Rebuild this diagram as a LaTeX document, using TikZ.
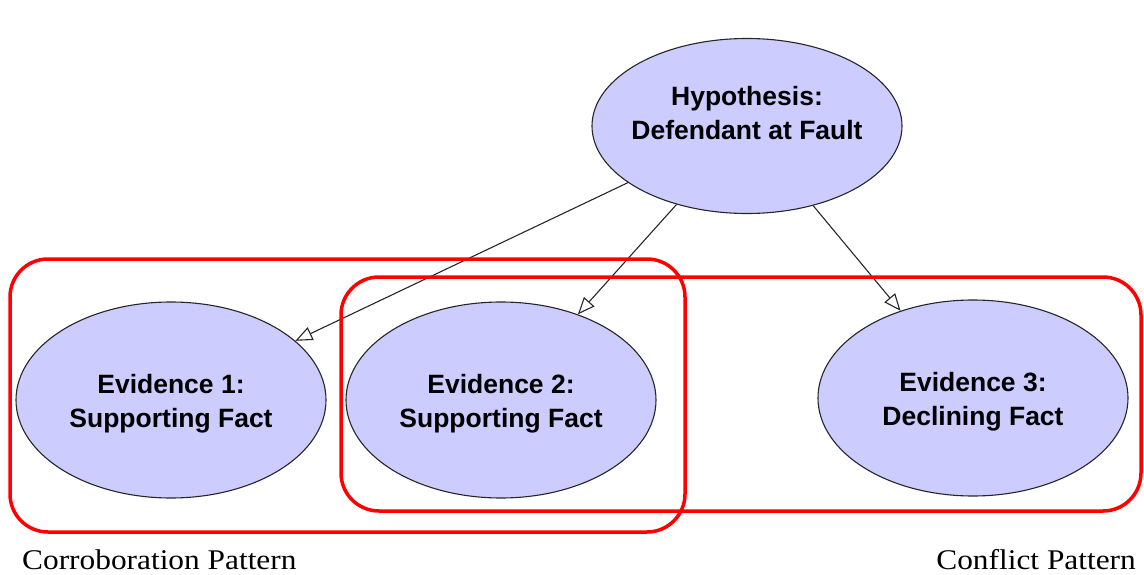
\documentclass[tikz,border=0pt]{standalone}
\usepackage{fontspec}
\setmainfont{Liberation Serif}
\newfontfamily\nodefont{Liberation Sans}
\usetikzlibrary{shapes.geometric,arrows.meta}
\definecolor{nodefill}{HTML}{CCCCFF}
\begin{document}
\begin{tikzpicture}[x=1pt,y=-1pt,
  claim/.style={ellipse, draw=black!85, line width=1.1pt, fill=nodefill,
    inner sep=0pt, minimum width=310pt},
  claimtext/.style={align=center, inner sep=0pt,
    font=\nodefont\bfseries\fontsize{26.5}{34}\selectfont},
  link/.style={draw=black!85, line width=1.1pt,
    -{Triangle[open, length=17pt, width=14pt, fill=white]}},
  group/.style={draw=red, line width=3.5pt, rounded corners=38pt},
  caption/.style={font=\fontsize{28.5}{34}\selectfont, inner sep=0pt,
    anchor=base west, xscale=1.1}]
\useasboundingbox (0,0) rectangle (1144,575);
% the four claims
\node[claim, minimum height=175pt] (h) at (747,126) {};
\node[claim, minimum height=196pt] (e1) at (171,400) {};
\node[claim, minimum height=196pt] (e2) at (501,400) {};
\node[claim, minimum height=196pt] (e3) at (973,398) {};
\node[claimtext] (ht) at ([yshift=13pt]h.center) {Hypothesis:\\Defendant at Fault};
\node[claimtext] (e1t) at ([yshift=-4pt]e1.center) {Evidence 1:\\Supporting Fact};
\node[claimtext] (e2t) at ([yshift=-4pt]e2.center) {Evidence 2:\\Supporting Fact};
\node[claimtext] (e3t) at ([yshift=-3.5pt]e3.center) {Evidence 3:\\Declining Fact};
% support links
\draw[link] (h) -- (e1);
\draw[link] (h) -- (e2);
\draw[link] (h) -- (e3);
% pattern groups
\draw[group] (10,259) rectangle (685,532);
\draw[group] (341,277) rectangle (1141,511);
\node[caption] (c1) at (22,569.5) {Corroboration Pattern};
\node[caption, anchor=base east] (c2) at (1136,569.5) {Conflict Pattern};
\end{tikzpicture}
\end{document}
